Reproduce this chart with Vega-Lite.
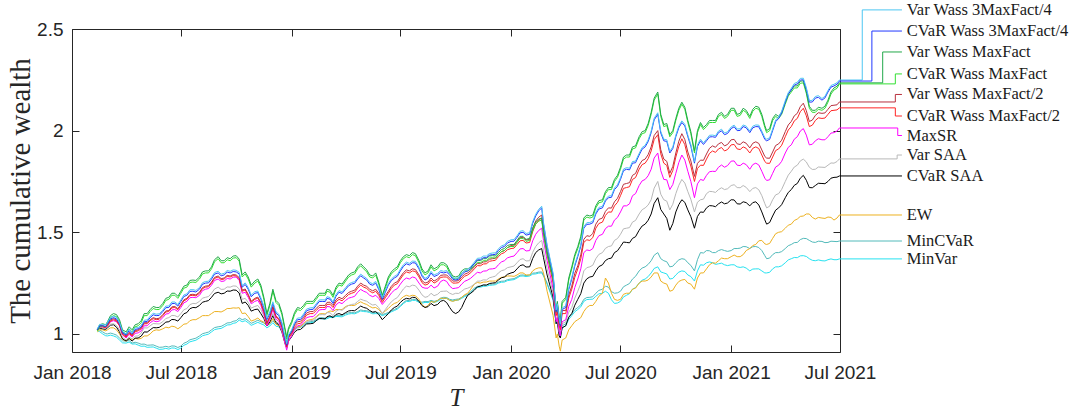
{
"$schema": "https://vega.github.io/schema/vega-lite/v6.json",
"width": 768, "height": 323,
"autosize": "none",
"padding": {"left": 72, "top": 29, "right": 237, "bottom": 60},
"background": "white",
"config": {"view": {"stroke": "#262626", "strokeWidth": 1}},
"datasets": {
"w": [
{"t":"2018-02-12","a":1.025,"b":1.02,"c":1.02,"d":1.015,"e":1.022,"f":1.02,"g":1.02,"h":1.02,"i":1.02,"j":1.01,"k":1.02,"l":1.015},
{"t":"2018-02-21","a":1.046,"b":1.04,"c":1.05,"d":1.04,"e":1.04,"f":1.035,"g":1.035,"h":1.03,"i":1.025,"j":1.02,"k":1.01,"l":1.0},
{"t":"2018-03-01","a":1.056,"b":1.05,"c":1.06,"d":1.05,"e":1.045,"f":1.04,"g":1.04,"h":1.035,"i":1.03,"j":1.02,"k":1.0,"l":0.99},
{"t":"2018-03-11","a":1.087,"b":1.08,"c":1.1,"d":1.09,"e":1.075,"f":1.07,"g":1.065,"h":1.05,"i":1.045,"j":1.03,"k":1.0,"l":0.99},
{"t":"2018-03-21","a":1.056,"b":1.05,"c":1.07,"d":1.06,"e":1.045,"f":1.04,"g":1.04,"h":1.02,"i":1.01,"j":1.0,"k":0.98,"l":0.97},
{"t":"2018-04-01","a":1.0,"b":0.995,"c":1.01,"d":1.0,"e":0.99,"f":0.985,"g":0.98,"h":0.97,"i":0.965,"j":0.965,"k":0.965,"l":0.955},
{"t":"2018-04-11","a":1.006,"b":1.0,"c":1.02,"d":1.01,"e":0.995,"f":0.99,"g":0.985,"h":0.975,"i":0.965,"j":0.97,"k":0.955,"l":0.95},
{"t":"2018-04-21","a":1.031,"b":1.025,"c":1.05,"d":1.04,"e":1.02,"f":1.015,"g":1.005,"h":0.99,"i":0.98,"j":0.975,"k":0.955,"l":0.945},
{"t":"2018-05-01","a":1.067,"b":1.06,"c":1.1,"d":1.09,"e":1.055,"f":1.05,"g":1.04,"h":1.03,"i":1.01,"j":0.99,"k":0.95,"l":0.94},
{"t":"2018-05-11","a":1.087,"b":1.08,"c":1.12,"d":1.11,"e":1.07,"f":1.065,"g":1.055,"h":1.04,"i":1.02,"j":1.0,"k":0.945,"l":0.935},
{"t":"2018-05-21","a":1.097,"b":1.09,"c":1.13,"d":1.12,"e":1.075,"f":1.07,"g":1.06,"h":1.05,"i":1.03,"j":1.02,"k":0.94,"l":0.93},
{"t":"2018-06-01","a":1.117,"b":1.11,"c":1.15,"d":1.14,"e":1.095,"f":1.09,"g":1.08,"h":1.06,"i":1.045,"j":1.025,"k":0.935,"l":0.925},
{"t":"2018-06-11","a":1.137,"b":1.13,"c":1.18,"d":1.17,"e":1.115,"f":1.11,"g":1.1,"h":1.08,"i":1.06,"j":1.03,"k":0.935,"l":0.925},
{"t":"2018-06-21","a":1.157,"b":1.15,"c":1.2,"d":1.19,"e":1.135,"f":1.13,"g":1.12,"h":1.09,"i":1.07,"j":1.035,"k":0.94,"l":0.93},
{"t":"2018-07-01","a":1.167,"b":1.16,"c":1.21,"d":1.2,"e":1.145,"f":1.14,"g":1.13,"h":1.1,"i":1.08,"j":1.035,"k":0.94,"l":0.93},
{"t":"2018-07-11","a":1.197,"b":1.19,"c":1.24,"d":1.23,"e":1.175,"f":1.17,"g":1.16,"h":1.125,"i":1.105,"j":1.05,"k":0.96,"l":0.95},
{"t":"2018-07-21","a":1.218,"b":1.21,"c":1.265,"d":1.255,"e":1.195,"f":1.19,"g":1.18,"h":1.15,"i":1.13,"j":1.07,"k":0.975,"l":0.965},
{"t":"2018-08-01","a":1.228,"b":1.22,"c":1.28,"d":1.27,"e":1.205,"f":1.2,"g":1.19,"h":1.16,"i":1.14,"j":1.08,"k":0.99,"l":0.98},
{"t":"2018-08-11","a":1.258,"b":1.25,"c":1.31,"d":1.3,"e":1.235,"f":1.23,"g":1.22,"h":1.18,"i":1.16,"j":1.09,"k":1.005,"l":0.995},
{"t":"2018-08-21","a":1.278,"b":1.27,"c":1.33,"d":1.32,"e":1.255,"f":1.25,"g":1.24,"h":1.2,"i":1.18,"j":1.1,"k":1.02,"l":1.01},
{"t":"2018-09-01","a":1.308,"b":1.3,"c":1.38,"d":1.37,"e":1.285,"f":1.28,"g":1.27,"h":1.23,"i":1.205,"j":1.11,"k":1.035,"l":1.025},
{"t":"2018-09-11","a":1.298,"b":1.29,"c":1.36,"d":1.35,"e":1.275,"f":1.27,"g":1.26,"h":1.22,"i":1.2,"j":1.115,"k":1.045,"l":1.035},
{"t":"2018-09-21","a":1.308,"b":1.3,"c":1.37,"d":1.36,"e":1.285,"f":1.28,"g":1.27,"h":1.23,"i":1.21,"j":1.125,"k":1.055,"l":1.045},
{"t":"2018-10-01","a":1.313,"b":1.305,"c":1.385,"d":1.375,"e":1.29,"f":1.285,"g":1.28,"h":1.235,"i":1.215,"j":1.127,"k":1.065,"l":1.055},
{"t":"2018-10-11","a":1.238,"b":1.23,"c":1.29,"d":1.28,"e":1.215,"f":1.21,"g":1.2,"h":1.17,"i":1.15,"j":1.1,"k":1.07,"l":1.06},
{"t":"2018-10-21","a":1.228,"b":1.22,"c":1.28,"d":1.27,"e":1.195,"f":1.19,"g":1.18,"h":1.155,"i":1.14,"j":1.085,"k":1.065,"l":1.055},
{"t":"2018-11-01","a":1.208,"b":1.2,"c":1.26,"d":1.25,"e":1.175,"f":1.17,"g":1.16,"h":1.135,"i":1.12,"j":1.07,"k":1.06,"l":1.05},
{"t":"2018-11-11","a":1.178,"b":1.17,"c":1.24,"d":1.23,"e":1.155,"f":1.15,"g":1.14,"h":1.12,"i":1.1,"j":1.065,"k":1.06,"l":1.05},
{"t":"2018-11-21","a":1.077,"b":1.07,"c":1.1,"d":1.09,"e":1.055,"f":1.05,"g":1.04,"h":1.045,"i":1.04,"j":1.04,"k":1.04,"l":1.03},
{"t":"2018-12-01","a":1.158,"b":1.15,"c":1.22,"d":1.21,"e":1.135,"f":1.13,"g":1.12,"h":1.1,"i":1.09,"j":1.075,"k":1.065,"l":1.055},
{"t":"2018-12-11","a":1.097,"b":1.09,"c":1.15,"d":1.14,"e":1.075,"f":1.07,"g":1.06,"h":1.05,"i":1.045,"j":1.04,"k":1.045,"l":1.035},
{"t":"2018-12-21","a":0.987,"b":0.98,"c":1.03,"d":1.02,"e":0.975,"f":0.97,"g":0.955,"h":0.96,"i":0.955,"j":0.975,"k":0.99,"l":0.98},
{"t":"2018-12-24","a":0.952,"b":0.945,"c":0.985,"d":0.975,"e":0.94,"f":0.935,"g":0.92,"h":0.93,"i":0.93,"j":0.955,"k":0.965,"l":0.96},
{"t":"2018-12-27","a":0.997,"b":0.99,"c":1.03,"d":1.02,"e":0.985,"f":0.98,"g":0.965,"h":0.97,"i":0.965,"j":0.98,"k":0.99,"l":0.985},
{"t":"2019-01-01","a":1.018,"b":1.01,"c":1.06,"d":1.05,"e":1.01,"f":1.0,"g":0.99,"h":0.99,"i":0.985,"j":1.0,"k":1.01,"l":1.0},
{"t":"2019-01-11","a":1.078,"b":1.07,"c":1.13,"d":1.12,"e":1.06,"f":1.05,"g":1.04,"h":1.03,"i":1.02,"j":1.035,"k":1.035,"l":1.03},
{"t":"2019-01-21","a":1.098,"b":1.09,"c":1.14,"d":1.13,"e":1.08,"f":1.07,"g":1.06,"h":1.045,"i":1.035,"j":1.05,"k":1.045,"l":1.04},
{"t":"2019-02-01","a":1.128,"b":1.12,"c":1.16,"d":1.15,"e":1.11,"f":1.1,"g":1.085,"h":1.065,"i":1.05,"j":1.07,"k":1.06,"l":1.055},
{"t":"2019-02-11","a":1.148,"b":1.14,"c":1.18,"d":1.17,"e":1.125,"f":1.115,"g":1.1,"h":1.08,"i":1.065,"j":1.085,"k":1.07,"l":1.065},
{"t":"2019-02-21","a":1.168,"b":1.16,"c":1.2,"d":1.19,"e":1.14,"f":1.13,"g":1.12,"h":1.095,"i":1.075,"j":1.1,"k":1.08,"l":1.075},
{"t":"2019-03-01","a":1.183,"b":1.175,"c":1.22,"d":1.21,"e":1.155,"f":1.145,"g":1.135,"h":1.105,"i":1.085,"j":1.105,"k":1.08,"l":1.075},
{"t":"2019-03-11","a":1.158,"b":1.15,"c":1.19,"d":1.18,"e":1.14,"f":1.13,"g":1.115,"h":1.09,"i":1.08,"j":1.11,"k":1.085,"l":1.08},
{"t":"2019-03-21","a":1.213,"b":1.205,"c":1.25,"d":1.24,"e":1.18,"f":1.17,"g":1.155,"h":1.12,"i":1.1,"j":1.12,"k":1.09,"l":1.085},
{"t":"2019-04-01","a":1.228,"b":1.22,"c":1.27,"d":1.26,"e":1.19,"f":1.18,"g":1.165,"h":1.13,"i":1.105,"j":1.135,"k":1.1,"l":1.093},
{"t":"2019-04-11","a":1.253,"b":1.245,"c":1.3,"d":1.29,"e":1.21,"f":1.2,"g":1.18,"h":1.145,"i":1.115,"j":1.14,"k":1.105,"l":1.1},
{"t":"2019-04-21","a":1.278,"b":1.27,"c":1.33,"d":1.32,"e":1.235,"f":1.225,"g":1.205,"h":1.16,"i":1.125,"j":1.15,"k":1.11,"l":1.105},
{"t":"2019-05-01","a":1.283,"b":1.275,"c":1.33,"d":1.32,"e":1.24,"f":1.23,"g":1.21,"h":1.165,"i":1.13,"j":1.15,"k":1.115,"l":1.11},
{"t":"2019-05-11","a":1.253,"b":1.245,"c":1.29,"d":1.28,"e":1.22,"f":1.21,"g":1.19,"h":1.15,"i":1.115,"j":1.135,"k":1.11,"l":1.105},
{"t":"2019-05-21","a":1.258,"b":1.25,"c":1.3,"d":1.29,"e":1.22,"f":1.21,"g":1.19,"h":1.145,"i":1.11,"j":1.13,"k":1.105,"l":1.1},
{"t":"2019-06-01","a":1.178,"b":1.17,"c":1.19,"d":1.18,"e":1.165,"f":1.155,"g":1.145,"h":1.1,"i":1.07,"j":1.1,"k":1.095,"l":1.09},
{"t":"2019-06-11","a":1.248,"b":1.24,"c":1.28,"d":1.27,"e":1.21,"f":1.2,"g":1.18,"h":1.14,"i":1.1,"j":1.125,"k":1.105,"l":1.1},
{"t":"2019-06-21","a":1.283,"b":1.275,"c":1.32,"d":1.31,"e":1.25,"f":1.24,"g":1.215,"h":1.17,"i":1.13,"j":1.15,"k":1.12,"l":1.115},
{"t":"2019-07-01","a":1.318,"b":1.31,"c":1.36,"d":1.35,"e":1.28,"f":1.27,"g":1.245,"h":1.2,"i":1.155,"j":1.17,"k":1.14,"l":1.135},
{"t":"2019-07-11","a":1.353,"b":1.345,"c":1.39,"d":1.38,"e":1.315,"f":1.305,"g":1.275,"h":1.235,"i":1.175,"j":1.19,"k":1.165,"l":1.16},
{"t":"2019-07-21","a":1.358,"b":1.35,"c":1.4,"d":1.39,"e":1.32,"f":1.31,"g":1.28,"h":1.24,"i":1.18,"j":1.19,"k":1.17,"l":1.165},
{"t":"2019-08-01","a":1.328,"b":1.32,"c":1.36,"d":1.35,"e":1.29,"f":1.28,"g":1.25,"h":1.215,"i":1.16,"j":1.17,"k":1.16,"l":1.155},
{"t":"2019-08-11","a":1.273,"b":1.265,"c":1.3,"d":1.29,"e":1.25,"f":1.24,"g":1.225,"h":1.18,"i":1.13,"j":1.13,"k":1.16,"l":1.155},
{"t":"2019-08-21","a":1.308,"b":1.3,"c":1.34,"d":1.33,"e":1.275,"f":1.265,"g":1.24,"h":1.2,"i":1.15,"j":1.16,"k":1.165,"l":1.16},
{"t":"2019-09-01","a":1.298,"b":1.29,"c":1.33,"d":1.32,"e":1.27,"f":1.26,"g":1.235,"h":1.195,"i":1.145,"j":1.165,"k":1.165,"l":1.16},
{"t":"2019-09-11","a":1.308,"b":1.3,"c":1.35,"d":1.34,"e":1.29,"f":1.28,"g":1.265,"h":1.21,"i":1.165,"j":1.175,"k":1.18,"l":1.175},
{"t":"2019-09-21","a":1.298,"b":1.29,"c":1.31,"d":1.3,"e":1.275,"f":1.265,"g":1.235,"h":1.2,"i":1.13,"j":1.165,"k":1.17,"l":1.165},
{"t":"2019-10-01","a":1.273,"b":1.265,"c":1.28,"d":1.27,"e":1.26,"f":1.25,"g":1.225,"h":1.2,"i":1.1,"j":1.165,"k":1.17,"l":1.165},
{"t":"2019-10-11","a":1.298,"b":1.29,"c":1.31,"d":1.3,"e":1.28,"f":1.27,"g":1.245,"h":1.21,"i":1.13,"j":1.18,"k":1.18,"l":1.175},
{"t":"2019-10-21","a":1.318,"b":1.31,"c":1.32,"d":1.31,"e":1.3,"f":1.29,"g":1.265,"h":1.225,"i":1.19,"j":1.2,"k":1.195,"l":1.19},
{"t":"2019-11-01","a":1.353,"b":1.345,"c":1.345,"d":1.335,"e":1.33,"f":1.32,"g":1.29,"h":1.245,"i":1.215,"j":1.245,"k":1.225,"l":1.22},
{"t":"2019-11-11","a":1.373,"b":1.365,"c":1.36,"d":1.35,"e":1.345,"f":1.335,"g":1.3,"h":1.26,"i":1.235,"j":1.25,"k":1.235,"l":1.23},
{"t":"2019-11-21","a":1.383,"b":1.375,"c":1.37,"d":1.36,"e":1.355,"f":1.345,"g":1.31,"h":1.265,"i":1.24,"j":1.255,"k":1.24,"l":1.235},
{"t":"2019-12-01","a":1.398,"b":1.39,"c":1.385,"d":1.375,"e":1.37,"f":1.36,"g":1.32,"h":1.28,"i":1.25,"j":1.26,"k":1.245,"l":1.24},
{"t":"2019-12-11","a":1.418,"b":1.41,"c":1.4,"d":1.39,"e":1.39,"f":1.38,"g":1.34,"h":1.3,"i":1.265,"j":1.27,"k":1.255,"l":1.25},
{"t":"2019-12-21","a":1.438,"b":1.43,"c":1.42,"d":1.41,"e":1.41,"f":1.4,"g":1.36,"h":1.315,"i":1.28,"j":1.28,"k":1.26,"l":1.255},
{"t":"2020-01-01","a":1.463,"b":1.455,"c":1.44,"d":1.43,"e":1.435,"f":1.42,"g":1.38,"h":1.33,"i":1.3,"j":1.285,"k":1.27,"l":1.265},
{"t":"2020-01-11","a":1.483,"b":1.475,"c":1.46,"d":1.45,"e":1.455,"f":1.44,"g":1.4,"h":1.35,"i":1.32,"j":1.29,"k":1.28,"l":1.275},
{"t":"2020-01-21","a":1.508,"b":1.5,"c":1.48,"d":1.47,"e":1.475,"f":1.46,"g":1.42,"h":1.37,"i":1.34,"j":1.3,"k":1.29,"l":1.285},
{"t":"2020-02-01","a":1.498,"b":1.49,"c":1.47,"d":1.46,"e":1.465,"f":1.45,"g":1.41,"h":1.36,"i":1.33,"j":1.29,"k":1.29,"l":1.285},
{"t":"2020-02-11","a":1.588,"b":1.58,"c":1.55,"d":1.54,"e":1.555,"f":1.54,"g":1.49,"h":1.43,"i":1.4,"j":1.32,"k":1.3,"l":1.295},
{"t":"2020-02-21","a":1.628,"b":1.62,"c":1.57,"d":1.56,"e":1.585,"f":1.57,"g":1.52,"h":1.46,"i":1.42,"j":1.325,"k":1.305,"l":1.3},
{"t":"2020-02-24","a":1.548,"b":1.54,"c":1.5,"d":1.49,"e":1.515,"f":1.5,"g":1.46,"h":1.41,"i":1.375,"j":1.3,"k":1.29,"l":1.285},
{"t":"2020-03-01","a":1.438,"b":1.43,"c":1.4,"d":1.39,"e":1.405,"f":1.39,"g":1.36,"h":1.32,"i":1.29,"j":1.21,"k":1.25,"l":1.245},
{"t":"2020-03-11","a":1.298,"b":1.29,"c":1.28,"d":1.27,"e":1.265,"f":1.25,"g":1.22,"h":1.2,"i":1.18,"j":1.09,"k":1.17,"l":1.165},
{"t":"2020-03-16","a":1.118,"b":1.11,"c":1.12,"d":1.11,"e":1.105,"f":1.09,"g":1.06,"h":1.07,"i":1.05,"j":0.98,"k":1.06,"l":1.05},
{"t":"2020-03-18","a":1.148,"b":1.14,"c":1.16,"d":1.15,"e":1.125,"f":1.11,"g":1.08,"h":1.08,"i":1.06,"j":1.0,"k":1.07,"l":1.06},
{"t":"2020-03-21","a":1.078,"b":1.07,"c":1.09,"d":1.08,"e":1.055,"f":1.04,"g":1.01,"h":1.01,"i":0.99,"j":0.94,"k":1.02,"l":1.01},
{"t":"2020-03-23","a":1.048,"b":1.04,"c":1.07,"d":1.06,"e":1.035,"f":1.02,"g":0.99,"h":1.0,"i":0.98,"j":0.915,"k":0.995,"l":0.985},
{"t":"2020-03-26","a":1.128,"b":1.12,"c":1.16,"d":1.15,"e":1.115,"f":1.1,"g":1.06,"h":1.05,"i":1.03,"j":0.97,"k":1.04,"l":1.03},
{"t":"2020-04-01","a":1.138,"b":1.13,"c":1.18,"d":1.17,"e":1.115,"f":1.1,"g":1.07,"h":1.06,"i":1.04,"j":0.98,"k":1.05,"l":1.04},
{"t":"2020-04-11","a":1.278,"b":1.27,"c":1.33,"d":1.32,"e":1.235,"f":1.22,"g":1.17,"h":1.13,"i":1.1,"j":1.04,"k":1.1,"l":1.09},
{"t":"2020-04-21","a":1.388,"b":1.38,"c":1.43,"d":1.42,"e":1.335,"f":1.32,"g":1.27,"h":1.21,"i":1.17,"j":1.07,"k":1.13,"l":1.12},
{"t":"2020-05-01","a":1.528,"b":1.52,"c":1.57,"d":1.56,"e":1.465,"f":1.45,"g":1.4,"h":1.31,"i":1.25,"j":1.11,"k":1.17,"l":1.16},
{"t":"2020-05-11","a":1.548,"b":1.54,"c":1.58,"d":1.57,"e":1.48,"f":1.46,"g":1.41,"h":1.33,"i":1.28,"j":1.14,"k":1.18,"l":1.17},
{"t":"2020-05-21","a":1.598,"b":1.59,"c":1.63,"d":1.62,"e":1.54,"f":1.52,"g":1.46,"h":1.37,"i":1.31,"j":1.16,"k":1.2,"l":1.185},
{"t":"2020-06-01","a":1.628,"b":1.62,"c":1.66,"d":1.65,"e":1.57,"f":1.55,"g":1.49,"h":1.4,"i":1.34,"j":1.2,"k":1.22,"l":1.2},
{"t":"2020-06-11","a":1.678,"b":1.67,"c":1.72,"d":1.71,"e":1.62,"f":1.6,"g":1.53,"h":1.43,"i":1.37,"j":1.25,"k":1.23,"l":1.2},
{"t":"2020-06-21","a":1.718,"b":1.71,"c":1.76,"d":1.75,"e":1.65,"f":1.63,"g":1.56,"h":1.46,"i":1.4,"j":1.17,"k":1.2,"l":1.15},
{"t":"2020-07-01","a":1.768,"b":1.76,"c":1.82,"d":1.81,"e":1.7,"f":1.68,"g":1.6,"h":1.49,"i":1.43,"j":1.17,"k":1.21,"l":1.16},
{"t":"2020-07-11","a":1.818,"b":1.81,"c":1.88,"d":1.87,"e":1.74,"f":1.72,"g":1.63,"h":1.52,"i":1.45,"j":1.2,"k":1.24,"l":1.19},
{"t":"2020-07-21","a":1.848,"b":1.84,"c":1.92,"d":1.91,"e":1.78,"f":1.76,"g":1.68,"h":1.55,"i":1.47,"j":1.22,"k":1.27,"l":1.22},
{"t":"2020-08-01","a":1.888,"b":1.88,"c":1.97,"d":1.96,"e":1.83,"f":1.81,"g":1.73,"h":1.59,"i":1.51,"j":1.25,"k":1.31,"l":1.25},
{"t":"2020-08-11","a":1.928,"b":1.92,"c":2.0,"d":1.99,"e":1.86,"f":1.84,"g":1.76,"h":1.62,"i":1.54,"j":1.26,"k":1.33,"l":1.27},
{"t":"2020-08-21","a":1.998,"b":1.99,"c":2.09,"d":2.08,"e":1.92,"f":1.9,"g":1.81,"h":1.66,"i":1.59,"j":1.28,"k":1.36,"l":1.3},
{"t":"2020-09-01","a":2.088,"b":2.08,"c":2.19,"d":2.18,"e":2.0,"f":1.98,"g":1.89,"h":1.75,"i":1.67,"j":1.3,"k":1.4,"l":1.33},
{"t":"2020-09-11","a":1.958,"b":1.95,"c":2.03,"d":2.02,"e":1.86,"f":1.84,"g":1.76,"h":1.66,"i":1.59,"j":1.25,"k":1.36,"l":1.3},
{"t":"2020-09-21","a":1.898,"b":1.89,"c":1.98,"d":1.97,"e":1.79,"f":1.77,"g":1.71,"h":1.61,"i":1.51,"j":1.21,"k":1.33,"l":1.27},
{"t":"2020-10-01","a":1.978,"b":1.97,"c":2.06,"d":2.05,"e":1.89,"f":1.87,"g":1.79,"h":1.69,"i":1.6,"j":1.24,"k":1.35,"l":1.29},
{"t":"2020-10-11","a":2.048,"b":2.04,"c":2.14,"d":2.13,"e":1.985,"f":1.96,"g":1.88,"h":1.76,"i":1.66,"j":1.265,"k":1.37,"l":1.31},
{"t":"2020-10-21","a":1.978,"b":1.97,"c":2.05,"d":2.04,"e":1.895,"f":1.87,"g":1.8,"h":1.7,"i":1.61,"j":1.25,"k":1.35,"l":1.29},
{"t":"2020-11-01","a":1.848,"b":1.84,"c":1.9,"d":1.89,"e":1.775,"f":1.75,"g":1.67,"h":1.6,"i":1.52,"j":1.22,"k":1.31,"l":1.26},
{"t":"2020-11-11","a":1.958,"b":1.95,"c":2.04,"d":2.03,"e":1.855,"f":1.83,"g":1.76,"h":1.66,"i":1.6,"j":1.3,"k":1.4,"l":1.34},
{"t":"2020-11-21","a":1.958,"b":1.95,"c":2.03,"d":2.02,"e":1.885,"f":1.86,"g":1.78,"h":1.69,"i":1.62,"j":1.32,"k":1.41,"l":1.35},
{"t":"2020-12-01","a":1.978,"b":1.97,"c":2.05,"d":2.04,"e":1.925,"f":1.9,"g":1.8,"h":1.7,"i":1.63,"j":1.35,"k":1.4,"l":1.35},
{"t":"2020-12-11","a":1.998,"b":1.99,"c":2.08,"d":2.07,"e":1.935,"f":1.91,"g":1.82,"h":1.71,"i":1.64,"j":1.36,"k":1.41,"l":1.345},
{"t":"2020-12-21","a":1.988,"b":1.98,"c":2.07,"d":2.06,"e":1.925,"f":1.9,"g":1.82,"h":1.71,"i":1.64,"j":1.37,"k":1.41,"l":1.34},
{"t":"2021-01-01","a":2.018,"b":2.01,"c":2.11,"d":2.1,"e":1.955,"f":1.93,"g":1.85,"h":1.73,"i":1.66,"j":1.38,"k":1.41,"l":1.34},
{"t":"2021-01-11","a":2.008,"b":2.0,"c":2.08,"d":2.07,"e":1.935,"f":1.91,"g":1.83,"h":1.72,"i":1.64,"j":1.38,"k":1.42,"l":1.33},
{"t":"2021-01-21","a":2.028,"b":2.02,"c":2.11,"d":2.1,"e":1.945,"f":1.92,"g":1.84,"h":1.73,"i":1.65,"j":1.39,"k":1.43,"l":1.33},
{"t":"2021-02-01","a":1.998,"b":1.99,"c":2.07,"d":2.06,"e":1.915,"f":1.89,"g":1.81,"h":1.7,"i":1.63,"j":1.42,"k":1.42,"l":1.31},
{"t":"2021-02-11","a":2.028,"b":2.02,"c":2.12,"d":2.11,"e":1.945,"f":1.92,"g":1.84,"h":1.72,"i":1.65,"j":1.44,"k":1.43,"l":1.32},
{"t":"2021-02-21","a":1.998,"b":1.99,"c":2.08,"d":2.07,"e":1.905,"f":1.88,"g":1.8,"h":1.68,"i":1.6,"j":1.46,"k":1.41,"l":1.31},
{"t":"2021-03-01","a":1.958,"b":1.95,"c":2.0,"d":1.99,"e":1.865,"f":1.84,"g":1.755,"h":1.62,"i":1.54,"j":1.44,"k":1.37,"l":1.3},
{"t":"2021-03-11","a":2.008,"b":2.0,"c":2.06,"d":2.05,"e":1.895,"f":1.87,"g":1.79,"h":1.66,"i":1.58,"j":1.47,"k":1.39,"l":1.32},
{"t":"2021-03-21","a":2.068,"b":2.06,"c":2.07,"d":2.06,"e":1.935,"f":1.91,"g":1.83,"h":1.69,"i":1.62,"j":1.5,"k":1.4,"l":1.33},
{"t":"2021-04-01","a":2.148,"b":2.14,"c":2.14,"d":2.13,"e":1.995,"f":1.97,"g":1.89,"h":1.75,"i":1.67,"j":1.52,"k":1.42,"l":1.35},
{"t":"2021-04-11","a":2.208,"b":2.2,"c":2.2,"d":2.19,"e":2.045,"f":2.02,"g":1.93,"h":1.8,"i":1.71,"j":1.54,"k":1.44,"l":1.37},
{"t":"2021-04-21","a":2.238,"b":2.23,"c":2.22,"d":2.21,"e":2.085,"f":2.06,"g":1.97,"h":1.83,"i":1.74,"j":1.565,"k":1.45,"l":1.375},
{"t":"2021-05-01","a":2.258,"b":2.25,"c":2.245,"d":2.235,"e":2.135,"f":2.11,"g":2.01,"h":1.86,"i":1.78,"j":1.58,"k":1.47,"l":1.385},
{"t":"2021-05-11","a":2.148,"b":2.14,"c":2.12,"d":2.11,"e":2.045,"f":2.02,"g":1.93,"h":1.82,"i":1.72,"j":1.59,"k":1.46,"l":1.37},
{"t":"2021-05-21","a":2.168,"b":2.16,"c":2.1,"d":2.09,"e":2.075,"f":2.05,"g":1.95,"h":1.81,"i":1.73,"j":1.565,"k":1.45,"l":1.36},
{"t":"2021-06-01","a":2.158,"b":2.15,"c":2.11,"d":2.1,"e":2.085,"f":2.06,"g":1.955,"h":1.82,"i":1.74,"j":1.57,"k":1.455,"l":1.36},
{"t":"2021-06-11","a":2.198,"b":2.19,"c":2.15,"d":2.14,"e":2.105,"f":2.08,"g":1.97,"h":1.83,"i":1.75,"j":1.575,"k":1.45,"l":1.365},
{"t":"2021-06-21","a":2.228,"b":2.22,"c":2.21,"d":2.2,"e":2.125,"f":2.1,"g":1.99,"h":1.84,"i":1.77,"j":1.56,"k":1.455,"l":1.365},
{"t":"2021-06-30","a":2.249,"b":2.244,"c":2.235,"d":2.23,"e":2.141,"f":2.112,"g":2.013,"h":1.861,"i":1.777,"j":1.585,"k":1.457,"l":1.369},
{"t":"2018-02-16","a":1.047,"b":1.039,"c":1.045,"d":1.035,"e":1.04,"f":1.035,"g":1.035,"h":1.031,"i":1.028,"j":1.02,"k":1.019,"l":1.011},
{"t":"2018-02-26","a":1.044,"b":1.036,"c":1.045,"d":1.035,"e":1.035,"f":1.03,"g":1.03,"h":1.027,"i":1.022,"j":1.015,"k":1.001,"l":0.991},
{"t":"2018-03-06","a":1.082,"b":1.074,"c":1.09,"d":1.08,"e":1.068,"f":1.063,"g":1.06,"h":1.048,"i":1.043,"j":1.03,"k":1.004,"l":0.994},
{"t":"2018-03-16","a":1.082,"b":1.074,"c":1.095,"d":1.085,"e":1.068,"f":1.063,"g":1.06,"h":1.041,"i":1.033,"j":1.02,"k":0.994,"l":0.984},
{"t":"2018-03-26","a":1.013,"b":1.005,"c":1.02,"d":1.01,"e":1.002,"f":0.997,"g":0.995,"h":0.983,"i":0.976,"j":0.973,"k":0.966,"l":0.956},
{"t":"2018-04-06","a":1.024,"b":1.016,"c":1.035,"d":1.025,"e":1.008,"f":1.003,"g":0.998,"h":0.985,"i":0.977,"j":0.978,"k":0.967,"l":0.96},
{"t":"2018-04-16","a":1.03,"b":1.022,"c":1.045,"d":1.035,"e":1.016,"f":1.011,"g":1.003,"h":0.989,"i":0.979,"j":0.978,"k":0.959,"l":0.951},
{"t":"2018-04-26","a":1.042,"b":1.034,"c":1.065,"d":1.055,"e":1.03,"f":1.025,"g":1.015,"h":1.004,"i":0.989,"j":0.978,"k":0.949,"l":0.939},
{"t":"2018-05-06","a":1.069,"b":1.061,"c":1.1,"d":1.09,"e":1.055,"f":1.05,"g":1.04,"h":1.029,"i":1.009,"j":0.99,"k":0.944,"l":0.934},
{"t":"2018-05-16","a":1.102,"b":1.094,"c":1.135,"d":1.125,"e":1.08,"f":1.075,"g":1.065,"h":1.051,"i":1.031,"j":1.015,"k":0.946,"l":0.936},
{"t":"2018-05-26","a":1.099,"b":1.091,"c":1.13,"d":1.12,"e":1.077,"f":1.072,"g":1.063,"h":1.049,"i":1.032,"j":1.018,"k":0.934,"l":0.924},
{"t":"2018-06-06","a":1.137,"b":1.129,"c":1.175,"d":1.165,"e":1.113,"f":1.108,"g":1.098,"h":1.076,"i":1.058,"j":1.033,"k":0.939,"l":0.929},
{"t":"2018-06-16","a":1.157,"b":1.149,"c":1.2,"d":1.19,"e":1.133,"f":1.128,"g":1.118,"h":1.091,"i":1.071,"j":1.038,"k":0.941,"l":0.931},
{"t":"2018-06-26","a":1.145,"b":1.137,"c":1.185,"d":1.175,"e":1.124,"f":1.119,"g":1.11,"h":1.083,"i":1.063,"j":1.025,"k":0.933,"l":0.923},
{"t":"2018-07-06","a":1.192,"b":1.184,"c":1.235,"d":1.225,"e":1.168,"f":1.163,"g":1.153,"h":1.119,"i":1.099,"j":1.048,"k":0.954,"l":0.944},
{"t":"2018-07-16","a":1.217,"b":1.209,"c":1.263,"d":1.253,"e":1.193,"f":1.188,"g":1.178,"h":1.144,"i":1.124,"j":1.065,"k":0.971,"l":0.961},
{"t":"2018-07-26","a":1.214,"b":1.206,"c":1.263,"d":1.253,"e":1.192,"f":1.187,"g":1.178,"h":1.149,"i":1.129,"j":1.07,"k":0.979,"l":0.969},
{"t":"2018-08-06","a":1.252,"b":1.244,"c":1.305,"d":1.295,"e":1.228,"f":1.223,"g":1.213,"h":1.176,"i":1.156,"j":1.09,"k":1.001,"l":0.991},
{"t":"2018-08-16","a":1.259,"b":1.251,"c":1.31,"d":1.3,"e":1.237,"f":1.232,"g":1.223,"h":1.184,"i":1.164,"j":1.09,"k":1.009,"l":0.999},
{"t":"2018-08-26","a":1.302,"b":1.294,"c":1.365,"d":1.355,"e":1.278,"f":1.273,"g":1.263,"h":1.221,"i":1.199,"j":1.11,"k":1.031,"l":1.021},
{"t":"2018-09-06","a":1.294,"b":1.286,"c":1.36,"d":1.35,"e":1.272,"f":1.267,"g":1.258,"h":1.219,"i":1.197,"j":1.108,"k":1.037,"l":1.027},
{"t":"2018-09-16","a":1.312,"b":1.304,"c":1.375,"d":1.365,"e":1.288,"f":1.283,"g":1.273,"h":1.231,"i":1.211,"j":1.125,"k":1.054,"l":1.044},
{"t":"2018-09-26","a":1.315,"b":1.307,"c":1.383,"d":1.373,"e":1.292,"f":1.287,"g":1.279,"h":1.236,"i":1.216,"j":1.128,"k":1.062,"l":1.052},
{"t":"2018-10-06","a":1.303,"b":1.295,"c":1.368,"d":1.358,"e":1.277,"f":1.272,"g":1.263,"h":1.221,"i":1.201,"j":1.129,"k":1.078,"l":1.068},
{"t":"2018-10-16","a":1.251,"b":1.243,"c":1.305,"d":1.295,"e":1.221,"f":1.216,"g":1.205,"h":1.175,"i":1.157,"j":1.103,"k":1.075,"l":1.065},
{"t":"2018-10-26","a":1.191,"b":1.183,"c":1.24,"d":1.23,"e":1.161,"f":1.156,"g":1.148,"h":1.127,"i":1.112,"j":1.063,"k":1.052,"l":1.042},
{"t":"2018-11-06","a":1.211,"b":1.203,"c":1.27,"d":1.26,"e":1.181,"f":1.176,"g":1.165,"h":1.14,"i":1.122,"j":1.078,"k":1.067,"l":1.057},
{"t":"2018-11-16","a":1.137,"b":1.129,"c":1.18,"d":1.17,"e":1.113,"f":1.108,"g":1.098,"h":1.089,"i":1.076,"j":1.058,"k":1.054,"l":1.044},
{"t":"2018-11-26","a":1.109,"b":1.101,"c":1.15,"d":1.14,"e":1.087,"f":1.082,"g":1.073,"h":1.067,"i":1.059,"j":1.053,"k":1.049,"l":1.039},
{"t":"2018-12-06","a":1.11,"b":1.102,"c":1.165,"d":1.155,"e":1.089,"f":1.084,"g":1.075,"h":1.063,"i":1.056,"j":1.048,"k":1.048,"l":1.038},
{"t":"2018-12-16","a":1.057,"b":1.049,"c":1.105,"d":1.095,"e":1.037,"f":1.032,"g":1.019,"h":1.014,"i":1.009,"j":1.015,"k":1.023,"l":1.013},
{"t":"2019-01-06","a":1.057,"b":1.049,"c":1.105,"d":1.095,"e":1.043,"f":1.033,"g":1.023,"h":1.016,"i":1.009,"j":1.023,"k":1.026,"l":1.019},
{"t":"2019-01-16","a":1.079,"b":1.071,"c":1.125,"d":1.115,"e":1.062,"f":1.052,"g":1.043,"h":1.032,"i":1.022,"j":1.038,"k":1.037,"l":1.032},
{"t":"2019-01-26","a":1.122,"b":1.114,"c":1.16,"d":1.15,"e":1.103,"f":1.093,"g":1.08,"h":1.061,"i":1.049,"j":1.065,"k":1.056,"l":1.051},
{"t":"2019-02-06","a":1.129,"b":1.121,"c":1.16,"d":1.15,"e":1.11,"f":1.1,"g":1.085,"h":1.067,"i":1.052,"j":1.073,"k":1.062,"l":1.057},
{"t":"2019-02-16","a":1.167,"b":1.159,"c":1.2,"d":1.19,"e":1.14,"f":1.13,"g":1.118,"h":1.094,"i":1.076,"j":1.098,"k":1.079,"l":1.074},
{"t":"2019-02-26","a":1.167,"b":1.159,"c":1.2,"d":1.19,"e":1.14,"f":1.13,"g":1.12,"h":1.094,"i":1.074,"j":1.098,"k":1.077,"l":1.072},
{"t":"2019-03-06","a":1.179,"b":1.171,"c":1.215,"d":1.205,"e":1.156,"f":1.146,"g":1.133,"h":1.104,"i":1.089,"j":1.113,"k":1.086,"l":1.081},
{"t":"2019-03-16","a":1.194,"b":1.186,"c":1.23,"d":1.22,"e":1.168,"f":1.158,"g":1.143,"h":1.111,"i":1.096,"j":1.12,"k":1.091,"l":1.086},
{"t":"2019-03-26","a":1.207,"b":1.199,"c":1.245,"d":1.235,"e":1.173,"f":1.163,"g":1.149,"h":1.116,"i":1.094,"j":1.12,"k":1.09,"l":1.084},
{"t":"2019-04-06","a":1.245,"b":1.237,"c":1.29,"d":1.28,"e":1.204,"f":1.194,"g":1.176,"h":1.14,"i":1.113,"j":1.14,"k":1.104,"l":1.098},
{"t":"2019-04-16","a":1.257,"b":1.249,"c":1.305,"d":1.295,"e":1.215,"f":1.205,"g":1.185,"h":1.147,"i":1.114,"j":1.14,"k":1.104,"l":1.099},
{"t":"2019-04-26","a":1.294,"b":1.286,"c":1.345,"d":1.335,"e":1.25,"f":1.24,"g":1.219,"h":1.171,"i":1.137,"j":1.158,"k":1.118,"l":1.113},
{"t":"2019-05-06","a":1.273,"b":1.265,"c":1.315,"d":1.305,"e":1.234,"f":1.224,"g":1.204,"h":1.161,"i":1.126,"j":1.145,"k":1.114,"l":1.109},
{"t":"2019-05-16","a":1.247,"b":1.239,"c":1.285,"d":1.275,"e":1.212,"f":1.202,"g":1.183,"h":1.142,"i":1.107,"j":1.128,"k":1.104,"l":1.099},
{"t":"2019-05-26","a":1.227,"b":1.219,"c":1.255,"d":1.245,"e":1.2,"f":1.19,"g":1.175,"h":1.129,"i":1.096,"j":1.12,"k":1.104,"l":1.099},
{"t":"2019-06-06","a":1.213,"b":1.205,"c":1.235,"d":1.225,"e":1.188,"f":1.178,"g":1.163,"h":1.12,"i":1.085,"j":1.113,"k":1.1,"l":1.095},
{"t":"2019-06-16","a":1.27,"b":1.262,"c":1.305,"d":1.295,"e":1.234,"f":1.224,"g":1.201,"h":1.158,"i":1.118,"j":1.14,"k":1.114,"l":1.109},
{"t":"2019-06-26","a":1.292,"b":1.284,"c":1.33,"d":1.32,"e":1.257,"f":1.247,"g":1.223,"h":1.179,"i":1.137,"j":1.155,"k":1.127,"l":1.122},
{"t":"2019-07-06","a":1.34,"b":1.332,"c":1.38,"d":1.37,"e":1.301,"f":1.291,"g":1.264,"h":1.221,"i":1.168,"j":1.183,"k":1.154,"l":1.149},
{"t":"2019-07-16","a":1.347,"b":1.339,"c":1.385,"d":1.375,"e":1.31,"f":1.3,"g":1.27,"h":1.232,"i":1.172,"j":1.185,"k":1.164,"l":1.159},
{"t":"2019-07-26","a":1.357,"b":1.349,"c":1.395,"d":1.385,"e":1.317,"f":1.307,"g":1.276,"h":1.237,"i":1.179,"j":1.188,"k":1.17,"l":1.165},
{"t":"2019-08-06","a":1.292,"b":1.284,"c":1.32,"d":1.31,"e":1.262,"f":1.252,"g":1.23,"h":1.192,"i":1.139,"j":1.145,"k":1.156,"l":1.151},
{"t":"2019-08-16","a":1.282,"b":1.274,"c":1.31,"d":1.3,"e":1.255,"f":1.245,"g":1.225,"h":1.184,"i":1.134,"j":1.14,"k":1.159,"l":1.154},
{"t":"2019-08-26","a":1.29,"b":1.282,"c":1.32,"d":1.31,"e":1.26,"f":1.25,"g":1.226,"h":1.188,"i":1.139,"j":1.155,"k":1.16,"l":1.155},
{"t":"2019-09-06","a":1.312,"b":1.304,"c":1.35,"d":1.34,"e":1.288,"f":1.278,"g":1.258,"h":1.209,"i":1.161,"j":1.175,"k":1.176,"l":1.171},
{"t":"2019-09-16","a":1.312,"b":1.304,"c":1.34,"d":1.33,"e":1.29,"f":1.28,"g":1.258,"h":1.211,"i":1.154,"j":1.175,"k":1.179,"l":1.174},
{"t":"2019-09-26","a":1.277,"b":1.269,"c":1.285,"d":1.275,"e":1.26,"f":1.25,"g":1.223,"h":1.194,"i":1.109,"j":1.16,"k":1.167,"l":1.162},
{"t":"2019-10-06","a":1.277,"b":1.269,"c":1.285,"d":1.275,"e":1.262,"f":1.252,"g":1.228,"h":1.199,"i":1.109,"j":1.168,"k":1.172,"l":1.167},
{"t":"2019-10-16","a":1.313,"b":1.305,"c":1.32,"d":1.31,"e":1.294,"f":1.284,"g":1.259,"h":1.221,"i":1.163,"j":1.193,"k":1.189,"l":1.184},
{"t":"2019-10-26","a":1.331,"b":1.323,"c":1.328,"d":1.318,"e":1.311,"f":1.301,"g":1.274,"h":1.232,"i":1.2,"j":1.22,"k":1.208,"l":1.203},
{"t":"2019-11-06","a":1.372,"b":1.364,"c":1.363,"d":1.353,"e":1.346,"f":1.336,"g":1.303,"h":1.259,"i":1.231,"j":1.253,"k":1.234,"l":1.229},
{"t":"2019-11-16","a":1.383,"b":1.375,"c":1.37,"d":1.36,"e":1.354,"f":1.344,"g":1.309,"h":1.266,"i":1.241,"j":1.255,"k":1.239,"l":1.234},
{"t":"2019-11-26","a":1.395,"b":1.387,"c":1.383,"d":1.373,"e":1.367,"f":1.357,"g":1.319,"h":1.276,"i":1.248,"j":1.26,"k":1.244,"l":1.239},
{"t":"2019-12-06","a":1.399,"b":1.391,"c":1.383,"d":1.373,"e":1.372,"f":1.362,"g":1.323,"h":1.284,"i":1.252,"j":1.26,"k":1.247,"l":1.242},
{"t":"2019-12-16","a":1.433,"b":1.425,"c":1.415,"d":1.405,"e":1.404,"f":1.394,"g":1.354,"h":1.311,"i":1.276,"j":1.278,"k":1.259,"l":1.254},
{"t":"2019-12-26","a":1.455,"b":1.447,"c":1.435,"d":1.425,"e":1.424,"f":1.414,"g":1.374,"h":1.326,"i":1.293,"j":1.285,"k":1.267,"l":1.262},
{"t":"2020-01-06","a":1.464,"b":1.456,"c":1.44,"d":1.43,"e":1.437,"f":1.422,"g":1.383,"h":1.334,"i":1.304,"j":1.283,"k":1.272,"l":1.267},
{"t":"2020-01-16","a":1.505,"b":1.497,"c":1.48,"d":1.47,"e":1.473,"f":1.458,"g":1.418,"h":1.366,"i":1.336,"j":1.3,"k":1.289,"l":1.284},
{"t":"2020-01-26","a":1.494,"b":1.486,"c":1.465,"d":1.455,"e":1.462,"f":1.447,"g":1.408,"h":1.359,"i":1.329,"j":1.29,"k":1.287,"l":1.282},
{"t":"2020-02-06","a":1.552,"b":1.544,"c":1.52,"d":1.51,"e":1.518,"f":1.503,"g":1.458,"h":1.401,"i":1.371,"j":1.31,"k":1.299,"l":1.294},
{"t":"2020-02-16","a":1.613,"b":1.605,"c":1.565,"d":1.555,"e":1.574,"f":1.559,"g":1.509,"h":1.448,"i":1.413,"j":1.325,"k":1.304,"l":1.299},
{"t":"2020-04-06","a":1.226,"b":1.218,"c":1.275,"d":1.265,"e":1.191,"f":1.176,"g":1.135,"h":1.107,"i":1.082,"j":1.02,"k":1.082,"l":1.072},
{"t":"2020-04-16","a":1.342,"b":1.334,"c":1.39,"d":1.38,"e":1.298,"f":1.278,"g":1.228,"h":1.176,"i":1.141,"j":1.06,"k":1.119,"l":1.109},
{"t":"2020-04-26","a":1.44,"b":1.432,"c":1.48,"d":1.47,"e":1.389,"f":1.369,"g":1.32,"h":1.248,"i":1.198,"j":1.08,"k":1.143,"l":1.133},
{"t":"2020-05-06","a":1.547,"b":1.539,"c":1.585,"d":1.575,"e":1.483,"f":1.463,"g":1.413,"h":1.326,"i":1.271,"j":1.13,"k":1.179,"l":1.169},
{"t":"2020-05-16","a":1.555,"b":1.547,"c":1.585,"d":1.575,"e":1.494,"f":1.474,"g":1.42,"h":1.338,"i":1.283,"j":1.14,"k":1.183,"l":1.171},
{"t":"2020-05-26","a":1.622,"b":1.614,"c":1.655,"d":1.645,"e":1.563,"f":1.543,"g":1.483,"h":1.391,"i":1.331,"j":1.185,"k":1.214,"l":1.197},
{"t":"2020-06-06","a":1.662,"b":1.654,"c":1.7,"d":1.69,"e":1.603,"f":1.583,"g":1.518,"h":1.421,"i":1.361,"j":1.275,"k":1.235,"l":1.21},
{"t":"2020-06-16","a":1.68,"b":1.672,"c":1.72,"d":1.71,"e":1.619,"f":1.599,"g":1.53,"h":1.433,"i":1.373,"j":1.2,"k":1.208,"l":1.168},
{"t":"2020-06-26","a":1.734,"b":1.726,"c":1.78,"d":1.77,"e":1.667,"f":1.647,"g":1.573,"h":1.469,"i":1.409,"j":1.165,"k":1.202,"l":1.152},
{"t":"2020-07-06","a":1.811,"b":1.803,"c":1.87,"d":1.86,"e":1.736,"f":1.716,"g":1.63,"h":1.517,"i":1.452,"j":1.195,"k":1.232,"l":1.182},
{"t":"2020-07-16","a":1.815,"b":1.807,"c":1.88,"d":1.87,"e":1.744,"f":1.724,"g":1.64,"h":1.523,"i":1.448,"j":1.2,"k":1.248,"l":1.198},
{"t":"2020-07-26","a":1.85,"b":1.842,"c":1.925,"d":1.915,"e":1.789,"f":1.769,"g":1.69,"h":1.558,"i":1.478,"j":1.225,"k":1.283,"l":1.228},
{"t":"2020-08-06","a":1.917,"b":1.909,"c":1.995,"d":1.985,"e":1.853,"f":1.833,"g":1.753,"h":1.611,"i":1.531,"j":1.26,"k":1.324,"l":1.264},
{"t":"2020-08-16","a":1.954,"b":1.946,"c":2.035,"d":2.025,"e":1.882,"f":1.862,"g":1.778,"h":1.634,"i":1.559,"j":1.265,"k":1.342,"l":1.282},
{"t":"2020-08-26","a":2.061,"b":2.053,"c":2.16,"d":2.15,"e":1.976,"f":1.956,"g":1.865,"h":1.717,"i":1.642,"j":1.3,"k":1.387,"l":1.322},
{"t":"2020-09-06","a":1.996,"b":1.988,"c":2.08,"d":2.07,"e":1.906,"f":1.886,"g":1.803,"h":1.687,"i":1.612,"j":1.26,"k":1.37,"l":1.305},
{"t":"2020-09-16","a":1.955,"b":1.947,"c":2.035,"d":2.025,"e":1.849,"f":1.829,"g":1.758,"h":1.653,"i":1.568,"j":1.245,"k":1.355,"l":1.295},
{"t":"2020-09-26","a":1.92,"b":1.912,"c":2.0,"d":1.99,"e":1.824,"f":1.804,"g":1.735,"h":1.638,"i":1.543,"j":1.215,"k":1.333,"l":1.273},
{"t":"2020-10-06","a":2.022,"b":2.014,"c":2.11,"d":2.1,"e":1.948,"f":1.923,"g":1.843,"h":1.731,"i":1.636,"j":1.258,"k":1.364,"l":1.304},
{"t":"2020-10-16","a":2.031,"b":2.023,"c":2.115,"d":2.105,"e":1.956,"f":1.931,"g":1.855,"h":1.742,"i":1.647,"j":1.268,"k":1.367,"l":1.307},
{"t":"2020-10-26","a":1.931,"b":1.923,"c":1.995,"d":1.985,"e":1.851,"f":1.826,"g":1.75,"h":1.662,"i":1.577,"j":1.245,"k":1.337,"l":1.282},
{"t":"2020-11-06","a":1.93,"b":1.922,"c":2.0,"d":1.99,"e":1.839,"f":1.814,"g":1.738,"h":1.648,"i":1.578,"j":1.275,"k":1.365,"l":1.31},
{"t":"2020-11-16","a":1.94,"b":1.932,"c":2.015,"d":2.005,"e":1.854,"f":1.829,"g":1.755,"h":1.663,"i":1.598,"j":1.3,"k":1.398,"l":1.338},
{"t":"2020-11-26","a":1.977,"b":1.969,"c":2.05,"d":2.04,"e":1.913,"f":1.888,"g":1.798,"h":1.701,"i":1.631,"j":1.34,"k":1.409,"l":1.354},
{"t":"2020-12-06","a":1.975,"b":1.967,"c":2.05,"d":2.04,"e":1.918,"f":1.893,"g":1.799,"h":1.696,"i":1.626,"j":1.348,"k":1.4,"l":1.342},
{"t":"2020-12-16","a":2.007,"b":1.999,"c":2.09,"d":2.08,"e":1.942,"f":1.917,"g":1.831,"h":1.719,"i":1.649,"j":1.373,"k":1.415,"l":1.348},
{"t":"2020-12-26","a":1.994,"b":1.986,"c":2.08,"d":2.07,"e":1.932,"f":1.907,"g":1.828,"h":1.714,"i":1.644,"j":1.37,"k":1.406,"l":1.336},
{"t":"2021-01-06","a":2.027,"b":2.019,"c":2.11,"d":2.1,"e":1.957,"f":1.932,"g":1.851,"h":1.734,"i":1.659,"j":1.388,"k":1.42,"l":1.34},
{"t":"2021-01-16","a":2.009,"b":2.001,"c":2.085,"d":2.075,"e":1.932,"f":1.907,"g":1.828,"h":1.719,"i":1.639,"j":1.38,"k":1.422,"l":1.327},
{"t":"2021-01-26","a":2.022,"b":2.014,"c":2.1,"d":2.09,"e":1.938,"f":1.913,"g":1.833,"h":1.721,"i":1.646,"j":1.41,"k":1.429,"l":1.324},
{"t":"2021-02-06","a":2.022,"b":2.014,"c":2.105,"d":2.095,"e":1.938,"f":1.913,"g":1.833,"h":1.716,"i":1.646,"j":1.435,"k":1.429,"l":1.319},
{"t":"2021-02-16","a":2.027,"b":2.019,"c":2.115,"d":2.105,"e":1.937,"f":1.912,"g":1.831,"h":1.709,"i":1.634,"j":1.458,"k":1.425,"l":1.32},
{"t":"2021-02-26","a":1.965,"b":1.957,"c":2.025,"d":2.015,"e":1.873,"f":1.848,"g":1.766,"h":1.641,"i":1.561,"j":1.443,"k":1.385,"l":1.3},
{"t":"2021-03-06","a":1.965,"b":1.957,"c":2.01,"d":2.0,"e":1.864,"f":1.839,"g":1.758,"h":1.628,"i":1.548,"j":1.445,"k":1.373,"l":1.303},
{"t":"2021-03-16","a":2.052,"b":2.044,"c":2.08,"d":2.07,"e":1.927,"f":1.902,"g":1.821,"h":1.684,"i":1.609,"j":1.493,"k":1.4,"l":1.33},
{"t":"2021-03-26","a":2.095,"b":2.087,"c":2.09,"d":2.08,"e":1.953,"f":1.928,"g":1.849,"h":1.711,"i":1.636,"j":1.503,"k":1.405,"l":1.335},
{"t":"2021-04-06","a":2.187,"b":2.179,"c":2.18,"d":2.17,"e":2.028,"f":2.003,"g":1.918,"h":1.781,"i":1.696,"j":1.535,"k":1.434,"l":1.364},
{"t":"2021-04-16","a":2.232,"b":2.224,"c":2.22,"d":2.21,"e":2.073,"f":2.048,"g":1.958,"h":1.821,"i":1.731,"j":1.558,"k":1.449,"l":1.376},
{"t":"2021-04-26","a":2.257,"b":2.249,"c":2.243,"d":2.233,"e":2.118,"f":2.093,"g":1.998,"h":1.851,"i":1.766,"j":1.578,"k":1.464,"l":1.384},
{"t":"2021-05-06","a":2.212,"b":2.204,"c":2.193,"d":2.183,"e":2.098,"f":2.073,"g":1.978,"h":1.846,"i":1.756,"j":1.59,"k":1.469,"l":1.381},
{"t":"2021-05-16","a":2.149,"b":2.141,"c":2.1,"d":2.09,"e":2.052,"f":2.027,"g":1.933,"h":1.809,"i":1.719,"j":1.573,"k":1.452,"l":1.362},
{"t":"2021-05-26","a":2.172,"b":2.164,"c":2.115,"d":2.105,"e":2.088,"f":2.063,"g":1.96,"h":1.821,"i":1.741,"j":1.573,"k":1.456,"l":1.364},
{"t":"2021-06-06","a":2.169,"b":2.161,"c":2.12,"d":2.11,"e":2.087,"f":2.062,"g":1.955,"h":1.819,"i":1.739,"j":1.568,"k":1.449,"l":1.359},
{"t":"2021-06-16","a":2.222,"b":2.214,"c":2.19,"d":2.18,"e":2.123,"f":2.098,"g":1.988,"h":1.841,"i":1.766,"j":1.573,"k":1.456,"l":1.369},
{"t":"2021-06-26","a":2.236,"b":2.228,"c":2.218,"d":2.208,"e":2.127,"f":2.102,"g":1.998,"h":1.848,"i":1.771,"j":1.57,"k":1.454,"l":1.365}
],
"lead": [
{"s":"a","o":1,"t":"2021-06-30","v":2.249},{"s":"a","o":2,"t":"2021-08-07","v":2.249},{"s":"a","o":3,"t":"2021-08-07","v":2.594},{"s":"a","o":4,"t":"2021-10-12","v":2.594},
{"s":"b","o":1,"t":"2021-06-30","v":2.244},{"s":"b","o":2,"t":"2021-08-23","v":2.244},{"s":"b","o":3,"t":"2021-08-23","v":2.49},{"s":"b","o":4,"t":"2021-10-12","v":2.49},
{"s":"c","o":1,"t":"2021-06-30","v":2.235},{"s":"c","o":2,"t":"2021-09-10","v":2.235},{"s":"c","o":3,"t":"2021-09-10","v":2.387},{"s":"c","o":4,"t":"2021-10-12","v":2.387},
{"s":"d","o":1,"t":"2021-06-30","v":2.23},{"s":"d","o":2,"t":"2021-10-01","v":2.23},{"s":"d","o":3,"t":"2021-10-01","v":2.279},{"s":"d","o":4,"t":"2021-10-12","v":2.279},
{"s":"e","o":1,"t":"2021-06-30","v":2.141},{"s":"e","o":2,"t":"2021-10-01","v":2.141},{"s":"e","o":3,"t":"2021-10-01","v":2.178},{"s":"e","o":4,"t":"2021-10-12","v":2.178},
{"s":"f","o":1,"t":"2021-06-30","v":2.112},{"s":"f","o":2,"t":"2021-10-01","v":2.112},{"s":"f","o":3,"t":"2021-10-01","v":2.072},{"s":"f","o":4,"t":"2021-10-12","v":2.072},
{"s":"g","o":1,"t":"2021-06-30","v":2.013},{"s":"g","o":2,"t":"2021-10-05","v":2.013},{"s":"g","o":3,"t":"2021-10-05","v":1.976},{"s":"g","o":4,"t":"2021-10-12","v":1.976},
{"s":"h","o":1,"t":"2021-06-30","v":1.861},{"s":"h","o":2,"t":"2021-10-04","v":1.861},{"s":"h","o":3,"t":"2021-10-04","v":1.88},{"s":"h","o":4,"t":"2021-10-12","v":1.88},
{"s":"i","o":1,"t":"2021-06-30","v":1.777},{"s":"i","o":2,"t":"2021-10-12","v":1.777},
{"s":"j","o":1,"t":"2021-06-30","v":1.585},{"s":"j","o":2,"t":"2021-10-12","v":1.585},
{"s":"k","o":1,"t":"2021-06-30","v":1.457},{"s":"k","o":2,"t":"2021-10-12","v":1.457},
{"s":"l","o":1,"t":"2021-06-30","v":1.369},{"s":"l","o":2,"t":"2021-10-12","v":1.369}
],
"lab": [
{"name":"Var Wass 3MaxFact/4","t":"2021-10-20","v":2.594},
{"name":"CVaR Wass 3MaxFact/4","t":"2021-10-20","v":2.49},
{"name":"Var Wass MaxFact","t":"2021-10-20","v":2.387},
{"name":"CVaR Wass MaxFact","t":"2021-10-20","v":2.279},
{"name":"Var Wass MaxFact/2","t":"2021-10-20","v":2.178},
{"name":"CVaR Wass MaxFact/2","t":"2021-10-20","v":2.072},
{"name":"MaxSR","t":"2021-10-20","v":1.976},
{"name":"Var SAA","t":"2021-10-20","v":1.88},
{"name":"CVaR SAA","t":"2021-10-20","v":1.777},
{"name":"EW","t":"2021-10-20","v":1.585},
{"name":"MinCVaR","t":"2021-10-20","v":1.457},
{"name":"MinVar","t":"2021-10-20","v":1.369}
]
},
"resolve": {"axis": {"x": "independent", "y": "independent"}},
"layer": [
{
"data": {"name": "w"},
"transform": [{"fold": ["l","k","j","i","h","g","f","e","d","c","b","a"], "as": ["s","v"]}],
"mark": {"type": "line", "strokeWidth": 1, "clip": true},
"encoding": {
"x": {"field": "t", "type": "temporal",
 "scale": {"type": "utc", "domain": [{"year":2018,"month":1,"date":1,"utc":true},{"year":2021,"month":7,"date":1,"utc":true}]},
 "axis": {"orient": "bottom", "labelExpr": "utcFormat(datum.value, '%b %Y')",
  "values": [{"year":2018,"month":1,"date":1,"utc":true},{"year":2018,"month":7,"date":1,"utc":true},{"year":2019,"month":1,"date":1,"utc":true},{"year":2019,"month":7,"date":1,"utc":true},{"year":2020,"month":1,"date":1,"utc":true},{"year":2020,"month":7,"date":1,"utc":true},{"year":2021,"month":1,"date":1,"utc":true},{"year":2021,"month":7,"date":1,"utc":true}],
  "labelFont": "Liberation Sans", "labelFontSize": 19, "labelColor": "#262626", "labelFlush": false, "labelOverlap": false,
  "tickColor": "#262626", "tickSize": -7, "labelPadding": 18, "domain": false, "grid": false,
  "title": "T", "titleFont": "Liberation Serif", "titleFontStyle": "italic", "titleFontSize": 25, "titleFontWeight": "normal", "titleColor": "#262626", "titlePadding": 3}},
"y": {"field": "v", "type": "quantitative",
 "scale": {"domain": [0.911, 2.5], "zero": false, "nice": false},
 "axis": {"orient": "left", "values": [1, 1.5, 2, 2.5], "format": "~g",
  "labelFont": "Liberation Sans", "labelFontSize": 19, "labelColor": "#262626", "labelFlush": false,
  "tickColor": "#262626", "tickSize": -7, "labelPadding": 16, "domain": false, "grid": false,
  "title": "The cumulative wealth", "titleFont": "Liberation Serif", "titleFontSize": 29, "titleFontWeight": "normal", "titleColor": "#262626", "titlePadding": 1}},
"color": {"field": "s", "type": "nominal", "legend": null,
 "scale": {"domain": ["a","b","c","d","e","f","g","h","i","j","k","l"],
  "range": ["#4cc6f2","#2038ff","#22a84a","#33e033","#b8303e","#ff2424","#ff00ff","#b8b8b8","#000000","#edb120","#52baba","#26e2f0"]}}
}
},
{
"data": {"name": "lead"},
"mark": {"type": "line", "strokeWidth": 1, "clip": false},
"encoding": {
"x": {"field": "t", "type": "temporal", "axis": null,
 "scale": {"type": "utc", "domain": [{"year":2018,"month":1,"date":1,"utc":true},{"year":2021,"month":7,"date":1,"utc":true}]}},
"y": {"field": "v", "type": "quantitative", "axis": null, "scale": {"domain": [0.911, 2.5], "zero": false, "nice": false}},
"color": {"field": "s", "type": "nominal", "legend": null,
 "scale": {"domain": ["a","b","c","d","e","f","g","h","i","j","k","l"],
  "range": ["#4cc6f2","#2038ff","#22a84a","#33e033","#b8303e","#ff2424","#ff00ff","#b8b8b8","#000000","#edb120","#52baba","#26e2f0"]}},
"order": {"field": "o", "type": "quantitative"}
}
},
{
"data": {"name": "lab"},
"mark": {"type": "text", "align": "left", "baseline": "middle", "font": "Liberation Serif", "fontSize": 16.5, "color": "#1a1a1a"},
"encoding": {
"x": {"field": "t", "type": "temporal", "axis": null,
 "scale": {"type": "utc", "domain": [{"year":2018,"month":1,"date":1,"utc":true},{"year":2021,"month":7,"date":1,"utc":true}]}},
"y": {"field": "v", "type": "quantitative", "axis": null, "scale": {"domain": [0.911, 2.5], "zero": false, "nice": false}},
"text": {"field": "name", "type": "nominal"}
}
},
{
"data": {"values": [{"t": "2018-06-01", "v": 1.5}]},
"mark": {"type": "point", "opacity": 0},
"encoding": {
"x": {"field": "t", "type": "temporal",
 "scale": {"type": "utc", "domain": [{"year":2018,"month":1,"date":1,"utc":true},{"year":2021,"month":7,"date":1,"utc":true}]},
 "axis": {"orient": "top", "labels": false, "domain": false, "grid": false, "title": null, "tickColor": "#262626", "tickSize": -7,
  "values": [{"year":2018,"month":1,"date":1,"utc":true},{"year":2018,"month":7,"date":1,"utc":true},{"year":2019,"month":1,"date":1,"utc":true},{"year":2019,"month":7,"date":1,"utc":true},{"year":2020,"month":1,"date":1,"utc":true},{"year":2020,"month":7,"date":1,"utc":true},{"year":2021,"month":1,"date":1,"utc":true},{"year":2021,"month":7,"date":1,"utc":true}]}},
"y": {"field": "v", "type": "quantitative",
 "scale": {"domain": [0.911, 2.5], "zero": false, "nice": false},
 "axis": {"orient": "right", "labels": false, "domain": false, "grid": false, "title": null, "tickColor": "#262626", "tickSize": -7, "values": [1, 1.5, 2, 2.5]}}
}
}
]
}
